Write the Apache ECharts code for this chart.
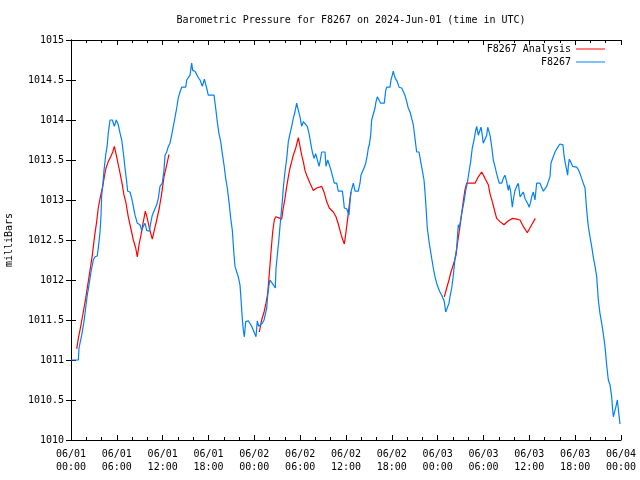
<!DOCTYPE html>
<html>
<head>
<meta charset="utf-8">
<script src="https://cdn.jsdelivr.net/npm/echarts@6/dist/echarts.min.js"></script>
<style>html,body{margin:0;padding:0;background:#fff;}#c{width:640px;height:480px;}</style>
</head>
<body>
<div id="c"></div>
<script>
// Hours since 2024-06-01 00:00 UTC
const stationHours = [0.0,0.96,1.05,1.40,1.70,1.92,2.13,2.36,2.62,2.92,3.14,3.44,3.67,3.80,3.93,4.02,4.15,4.32,4.54,4.75,4.88,5.11,5.41,5.67,5.93,6.19,6.41,6.64,6.85,7.07,7.29,7.42,7.72,7.95,8.16,8.38,8.68,9.03,9.26,9.46,9.69,9.91,10.25,10.47,10.64,10.90,11.22,11.43,11.65,11.95,12.17,12.31,12.53,12.74,12.96,13.18,13.39,13.61,13.84,14.05,14.27,14.49,15.02,15.15,15.36,15.58,15.80,15.93,16.23,16.45,16.66,16.89,17.11,17.19,17.45,17.76,17.97,18.72,18.94,19.15,19.37,19.60,19.81,20.03,20.25,20.46,20.68,20.91,21.12,21.34,21.47,21.69,21.90,22.12,22.25,22.42,22.56,22.69,22.87,23.21,23.66,23.96,24.22,24.39,24.57,24.83,25.04,25.27,25.62,25.75,25.92,26.05,26.27,26.48,26.74,26.84,27.01,27.19,27.36,27.49,27.66,27.79,28.01,28.24,28.45,28.67,28.89,29.10,29.32,29.54,29.76,29.98,30.20,30.41,30.63,30.93,31.16,31.38,31.59,31.81,32.03,32.24,32.47,32.60,32.82,33.25,33.38,33.60,33.81,34.04,34.26,34.47,34.78,34.99,35.52,35.65,35.78,36.09,36.30,36.39,36.52,36.65,36.96,37.18,37.61,37.83,37.96,38.13,38.36,38.58,38.79,38.92,39.05,39.23,39.36,39.57,39.80,39.93,40.10,40.23,40.36,40.54,41.01,41.20,41.33,41.76,41.89,42.06,42.19,42.32,42.51,42.72,42.94,43.29,43.72,43.95,44.15,44.38,44.60,44.81,45.03,45.25,45.56,45.78,45.99,46.21,46.34,46.47,46.64,46.87,47.09,47.22,47.43,47.65,47.87,48.08,48.30,48.53,48.74,48.87,49.05,49.26,49.48,49.61,49.84,50.05,50.27,50.49,50.70,50.83,51.02,51.22,51.45,51.67,51.88,52.10,52.32,52.53,52.76,52.98,53.11,53.32,53.54,53.67,53.84,53.97,54.20,54.42,54.55,54.72,54.85,55.07,55.28,55.50,55.72,55.94,56.07,56.38,56.59,56.81,57.03,57.25,57.38,57.56,57.77,57.90,58.12,58.34,58.56,58.78,59.00,59.21,59.43,59.65,59.86,59.99,60.18,60.31,60.52,60.74,60.96,61.39,61.62,61.83,62.05,62.27,62.48,62.70,62.83,63.01,63.36,63.58,63.79,64.01,64.23,64.40,64.54,64.67,64.89,65.02,65.10,65.23,65.45,65.68,66.20,66.41,66.63,66.85,67.06,67.29,67.51,67.72,67.94,68.16,68.37,68.60,68.82,69.03,69.25,69.47,69.68,69.90,70.12,70.34,70.56,70.78,70.91,71.00,71.22,71.34,71.52,71.65,71.78,71.87];
const stationPressure = [1011.0,1011.0,1011.15,1011.31,1011.48,1011.65,1011.81,1011.94,1012.10,1012.25,1012.29,1012.3,1012.48,1012.6,1012.81,1013.06,1013.17,1013.37,1013.56,1013.69,1013.84,1014.0,1014.0,1013.92,1014.0,1013.94,1013.84,1013.75,1013.59,1013.4,1013.23,1013.11,1013.1,1013.02,1012.92,1012.81,1012.71,1012.69,1012.62,1012.67,1012.71,1012.62,1012.61,1012.73,1012.81,1012.87,1012.94,1013.02,1013.17,1013.21,1013.37,1013.56,1013.6,1013.67,1013.71,1013.81,1013.92,1013.92,1014.15,1014.28,1014.35,1014.41,1014.41,1014.5,1014.51,1014.56,1014.71,1014.62,1014.61,1014.57,1014.53,1014.5,1014.48,1014.42,1014.51,1014.4,1014.31,1014.31,1014.15,1013.98,1013.83,1013.73,1013.58,1013.44,1013.27,1013.15,1012.98,1012.77,1012.62,1012.31,1012.17,1012.10,1012.04,1011.94,1011.77,1011.52,1011.37,1011.29,1011.48,1011.49,1011.42,1011.35,1011.29,1011.49,1011.42,1011.42,1011.46,1011.5,1011.65,1011.81,1011.94,1012.0,1012.0,1011.94,1011.9,1012.15,1012.31,1012.48,1012.67,1012.81,1012.98,1013.15,1013.35,1013.52,1013.73,1013.83,1013.92,1014.02,1014.1,1014.21,1014.12,1014.04,1013.92,1013.98,1014.0,1013.92,1013.83,1013.71,1013.6,1013.52,1013.58,1013.6,1013.42,1013.48,1013.6,1013.6,1013.42,1013.5,1013.44,1013.37,1013.29,1013.21,1013.21,1013.11,1013.11,1013.02,1012.9,1012.89,1012.87,1012.81,1012.98,1013.1,1013.21,1013.11,1013.11,1013.21,1013.31,1013.35,1013.4,1013.46,1013.56,1013.65,1013.69,1013.81,1014.0,1014.02,1014.15,1014.23,1014.29,1014.31,1014.27,1014.21,1014.21,1014.37,1014.41,1014.41,1014.5,1014.56,1014.61,1014.56,1014.51,1014.48,1014.41,1014.4,1014.31,1014.23,1014.15,1014.1,1014.02,1013.94,1013.77,1013.6,1013.6,1013.48,1013.37,1013.25,1013.1,1012.92,1012.65,1012.48,1012.35,1012.27,1012.15,1012.04,1011.96,1011.9,1011.85,1011.81,1011.79,1011.73,1011.6,1011.6,1011.71,1011.79,1011.9,1012.06,1012.27,1012.4,1012.69,1012.65,1012.67,1012.87,1012.98,1013.12,1013.21,1013.35,1013.48,1013.65,1013.75,1013.87,1013.92,1013.81,1013.81,1013.91,1013.81,1013.71,1013.71,1013.81,1013.91,1013.91,1013.81,1013.67,1013.5,1013.42,1013.33,1013.25,1013.21,1013.21,1013.27,1013.31,1013.23,1013.12,1013.19,1013.1,1012.91,1013.0,1013.12,1013.17,1013.21,1013.04,1013.06,1013.1,1013.02,1013.0,1012.94,1012.91,1012.98,1013.04,1013.1,1013.0,1013.21,1013.21,1013.19,1013.11,1013.11,1013.17,1013.23,1013.29,1013.46,1013.51,1013.6,1013.61,1013.67,1013.7,1013.71,1013.69,1013.56,1013.48,1013.46,1013.31,1013.42,1013.51,1013.47,1013.42,1013.41,1013.38,1013.33,1013.27,1013.21,1013.15,1012.87,1012.67,1012.54,1012.42,1012.29,1012.17,1012.04,1011.75,1011.58,1011.46,1011.33,1011.17,1010.94,1010.75,1010.69,1010.54,1010.37,1010.29,1010.3,1010.42,1010.5,1010.5,1010.27,1010.2];

// Analysis series, three separate runs
const analysisHoursA = [0.75,0.96,1.27,1.61,1.92,2.26,2.49,2.79,3.05,3.36,3.57,3.89,4.15,4.36,4.58,4.88,5.20,5.46,5.67,5.98,6.28,6.64,6.94,7.20,7.50,7.82,8.16,8.47,8.68,8.90,9.16,9.43,9.73,9.99,10.25,10.64,10.90,11.22,11.56,11.87,12.17,12.53,12.83];
const analysisPressureA = [1011.14,1011.27,1011.42,1011.6,1011.77,1011.98,1012.12,1012.31,1012.52,1012.73,1012.9,1013.06,1013.17,1013.29,1013.4,1013.48,1013.54,1013.6,1013.67,1013.54,1013.4,1013.23,1013.06,1012.96,1012.79,1012.65,1012.5,1012.4,1012.29,1012.44,1012.56,1012.71,1012.86,1012.77,1012.65,1012.51,1012.62,1012.75,1012.9,1013.08,1013.29,1013.44,1013.57];
const analysisHoursB = [24.65,24.96,25.27,25.53,25.75,25.96,26.18,26.40,26.61,26.80,27.14,27.58,27.79,28.01,28.24,28.45,28.67,28.89,29.10,29.42,29.76,29.98,30.20,30.41,30.63,30.85,31.29,31.72,32.16,32.82,33.12,33.47,33.81,34.34,34.69,34.99,35.21,35.44,35.78,36.00,36.22,36.43,36.65];
const analysisPressureB = [1011.35,1011.5,1011.6,1011.71,1011.83,1012.08,1012.35,1012.6,1012.75,1012.79,1012.78,1012.76,1012.9,1013.02,1013.17,1013.29,1013.4,1013.48,1013.56,1013.65,1013.78,1013.67,1013.56,1013.48,1013.37,1013.31,1013.21,1013.12,1013.15,1013.17,1013.1,1012.98,1012.9,1012.85,1012.79,1012.7,1012.62,1012.54,1012.45,1012.6,1012.77,1012.94,1013.1];
const analysisHoursC = [48.87,49.18,49.48,49.74,50.05,50.40,50.62,50.92,51.14,51.35,51.58,51.80,52.89,53.32,53.76,54.20,54.63,54.85,55.15,55.50,55.72,56.16,56.68,57.25,57.82,58.34,58.78,59.21,59.73,60.31,60.78];
const analysisPressureC = [1011.79,1011.9,1012.0,1012.1,1012.19,1012.31,1012.48,1012.67,1012.83,1012.98,1013.13,1013.21,1013.21,1013.29,1013.35,1013.27,1013.19,1013.08,1012.98,1012.85,1012.77,1012.73,1012.69,1012.74,1012.77,1012.76,1012.75,1012.67,1012.59,1012.69,1012.77];

const yTicks = [1010, 1015, 0.5]; // min, max, step
const xTicks = [0, 72, 6];       // hours: min, max, step

function zip(xs, ys) { return xs.map((x, i) => [x, ys[i]]); }
const analysisData = zip(analysisHoursA, analysisPressureA)
  .concat([[18, '-']])
  .concat(zip(analysisHoursB, analysisPressureB))
  .concat([[42, '-']])
  .concat(zip(analysisHoursC, analysisPressureC));
const stationData = zip(stationHours, stationPressure);

const FONT = 'DejaVu Sans Mono';
function pad(n) { return (n < 10 ? '0' : '') + n; }
function xLabel(h) {
  const day = 1 + Math.floor(h / 24 + 1e-9);
  const hr = Math.round(h - (day - 1) * 24);
  return '06/' + pad(day) + '\n' + pad(hr) + ':00';
}

const chart = echarts.init(document.getElementById('c'), null, { renderer: 'canvas' });
const axisCommon = {
  axisLine: { show: true, lineStyle: { color: '#000', width: 1 } },
  splitLine: { show: false },
};
chart.setOption({
  animation: false,
  backgroundColor: '#fff',
  title: {
    text: 'Barometric Pressure for F8267 on 2024-Jun-01 (time in UTC)',
    left: 346, textAlign: 'center', top: 10,
    textStyle: { fontFamily: FONT, fontSize: 10, fontWeight: 'normal', color: '#000' }
  },
  legend: {
    orient: 'vertical', right: 30, top: 39, align: 'right',
    icon: 'rect', itemWidth: 29, itemHeight: 1, itemGap: 3,
    textStyle: { fontFamily: FONT, fontSize: 10, color: '#000' },
    data: ['F8267 Analysis', 'F8267']
  },
  grid: { left: 71, right: 19, top: 40, bottom: 40, containLabel: false, outerBoundsMode: 'none' },
  xAxis: [
    Object.assign({}, axisCommon, {
      type: 'value', min: xTicks[0], max: xTicks[1], interval: xTicks[2], position: 'bottom',
      axisTick: { show: true, inside: true, length: 5, lineStyle: { color: '#000' } },
      minorTick: { show: true, splitNumber: 3, length: 3, lineStyle: { color: '#000' } },
      axisLabel: { show: true, margin: 8, fontFamily: FONT, fontSize: 10, color: '#000', lineHeight: 13, formatter: xLabel }
    }),
    Object.assign({}, axisCommon, {
      type: 'value', min: xTicks[0], max: xTicks[1], interval: xTicks[2], position: 'top',
      axisTick: { show: true, inside: true, length: 5, lineStyle: { color: '#000' } },
      minorTick: { show: true, splitNumber: 3, length: 3, lineStyle: { color: '#000' } },
      axisLabel: { show: false }
    })
  ],
  yAxis: [
    Object.assign({}, axisCommon, {
      type: 'value', min: yTicks[0], max: yTicks[1], interval: yTicks[2], position: 'left',
      name: 'milliBars', nameLocation: 'middle', nameGap: 57, nameRotate: 90,
      nameTextStyle: { fontFamily: FONT, fontSize: 10, color: '#000' },
      axisTick: { show: true, inside: true, length: 5, lineStyle: { color: '#000' } },
      axisLabel: { show: true, margin: 7, fontFamily: FONT, fontSize: 10, color: '#000', formatter: v => String(+v.toFixed(1)) }
    }),
    Object.assign({}, axisCommon, {
      type: 'value', min: yTicks[0], max: yTicks[1], interval: yTicks[2], position: 'right',
      axisTick: { show: true, inside: true, length: 5, lineStyle: { color: '#000' } },
      axisLabel: { show: false }
    })
  ],
  series: [
    {
      name: 'F8267 Analysis', type: 'line', xAxisIndex: 0, yAxisIndex: 0,
      data: analysisData, symbol: 'none', connectNulls: false,
      lineStyle: { color: '#ff0000', width: 1.2 }, itemStyle: { color: '#ff0000' }
    },
    {
      name: 'F8267', type: 'line', xAxisIndex: 0, yAxisIndex: 0,
      data: stationData, symbol: 'none',
      lineStyle: { color: '#0080ff', width: 1.2 }, itemStyle: { color: '#0080ff' }
    }
  ]
});
</script>
</body>
</html>
